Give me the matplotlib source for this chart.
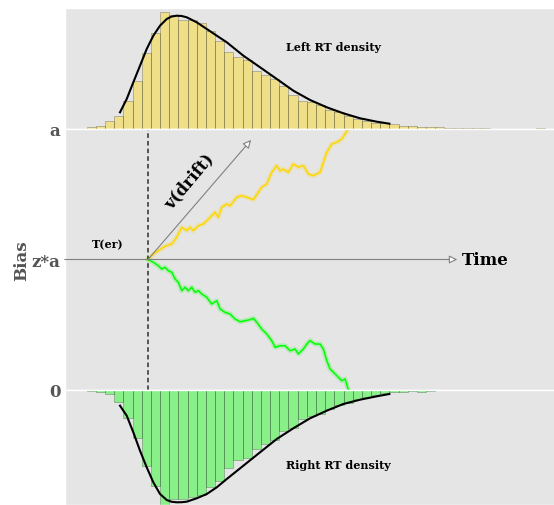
import numpy as np
import matplotlib
matplotlib.use('Agg')
import matplotlib.pyplot as plt

plt.style.use('ggplot')

# model parameters
a = 2.0
z = 0.5
t_er = 0.908

# histogram bins (width 0.1, first left edge 0.24)
bin_start = 0.24
bin_width = 0.1
left_hist = [0.017, 0.033, 0.077, 0.127, 0.283, 0.477, 0.76, 0.957, 1.167, 1.143,
             1.093, 1.087, 1.057, 0.977, 0.877, 0.767, 0.723, 0.693, 0.583, 0.54,
             0.50, 0.427, 0.343, 0.277, 0.267, 0.243, 0.19, 0.167, 0.133, 0.10,
             0.083, 0.057, 0.057, 0.05, 0.033, 0.033, 0.017, 0.017, 0.02, 0.01,
             0.01, 0.007, 0.007, 0.007, 0.0, 0.0, 0.0, 0.0, 0.0, 0.007]
right_hist = [0.01, 0.023, 0.043, 0.123, 0.277, 0.477, 0.757, 0.957, 1.18, 1.09,
              1.09, 1.067, 1.05, 0.967, 0.91, 0.777, 0.70, 0.677, 0.59, 0.543,
              0.50, 0.41, 0.377, 0.29, 0.257, 0.243, 0.19, 0.15, 0.127, 0.09,
              0.067, 0.05, 0.033, 0.023, 0.017, 0.01, 0.023, 0.01, 0.005, 0.005,
              0.005, 0.005]

# analytic densities
dens_t = [0.603, 0.676, 0.748, 0.821, 0.894, 0.966, 1.039, 1.112, 1.166, 1.221,
          1.275, 1.330, 1.439, 1.549, 1.658, 1.767, 1.948, 2.130, 2.312, 2.493,
          2.675, 2.857, 3.038, 3.220, 3.402, 3.540]
left_dens = [0.167, 0.30, 0.467, 0.633, 0.80, 0.933, 1.033, 1.10, 1.125, 1.133,
             1.130, 1.117, 1.067, 1.00, 0.933, 0.867, 0.733, 0.617, 0.50, 0.383,
             0.29, 0.217, 0.157, 0.107, 0.073, 0.053]
right_dens = [0.157, 0.257, 0.423, 0.607, 0.773, 0.923, 1.04, 1.10, 1.118, 1.123,
              1.122, 1.117, 1.083, 1.04, 0.973, 0.89, 0.757, 0.623, 0.49, 0.383,
              0.283, 0.207, 0.14, 0.097, 0.063, 0.04]

# simulated paths
up_t = [0.908, 0.966, 1.021, 1.075, 1.112, 1.167, 1.221, 1.276, 1.330, 1.366,
        1.402, 1.457, 1.511, 1.549, 1.603, 1.639, 1.675, 1.712, 1.767, 1.803,
        1.876, 1.930, 1.985, 2.057, 2.111, 2.148, 2.203, 2.257, 2.312, 2.348,
        2.384, 2.438, 2.493, 2.547, 2.602, 2.657, 2.711, 2.784, 2.820, 2.857,
        2.912, 2.966, 3.021, 3.057, 3.093]
up_y = [1.0, 1.042, 1.067, 1.093, 1.106, 1.119, 1.170, 1.247, 1.221, 1.247,
        1.221, 1.259, 1.272, 1.297, 1.336, 1.362, 1.323, 1.400, 1.425, 1.412,
        1.477, 1.489, 1.477, 1.458, 1.515, 1.553, 1.579, 1.668, 1.719, 1.680,
        1.693, 1.668, 1.732, 1.707, 1.719, 1.655, 1.642, 1.668, 1.745, 1.821,
        1.885, 1.898, 1.923, 1.962, 2.0]
down_t = [0.908, 0.966, 1.021, 1.058, 1.094, 1.130, 1.167, 1.203, 1.239, 1.276,
          1.312, 1.348, 1.385, 1.421, 1.457, 1.494, 1.549, 1.603, 1.658, 1.694,
          1.748, 1.803, 1.857, 1.912, 1.966, 2.021, 2.057, 2.094, 2.148, 2.203,
          2.257, 2.294, 2.348, 2.402, 2.457, 2.511, 2.547, 2.602, 2.639, 2.675,
          2.730, 2.784, 2.820, 2.857, 2.893, 2.948, 2.984, 3.021, 3.057, 3.093]
down_y = [1.0, 0.979, 0.952, 0.927, 0.940, 0.914, 0.902, 0.851, 0.825, 0.761,
          0.787, 0.761, 0.787, 0.749, 0.761, 0.736, 0.710, 0.659, 0.684, 0.621,
          0.595, 0.582, 0.544, 0.523, 0.531, 0.539, 0.549, 0.519, 0.467, 0.429,
          0.378, 0.327, 0.339, 0.339, 0.301, 0.314, 0.276, 0.314, 0.352, 0.378,
          0.352, 0.352, 0.314, 0.225, 0.161, 0.123, 0.097, 0.071, 0.084, 0.0]

drift_tip = (2.032, 1.916)
time_tip = 4.28

serif = dict(family='DejaVu Serif', fontweight='bold')

fig = plt.figure(figsize=(5.54, 5.06), dpi=100)
x0, w = 0.1168, 0.894
ax_top = fig.add_axes([x0, 0.7431, w, 0.2401])
ax_mid = fig.add_axes([x0, 0.2273, w, 0.5158])
ax_bot = fig.add_axes([x0, 0.0, w, 0.2273])

for ax in (ax_top, ax_mid, ax_bot):
    ax.set_xlim(0, 5.4)
    ax.grid(False)
    ax.set_xticks([])
    ax.tick_params(length=0)

edges = bin_start + bin_width * np.arange(len(left_hist))
ax_top.bar(edges, left_hist, width=bin_width, align='edge', color='gold',
           alpha=0.4, edgecolor='black', linewidth=0.4)
ax_top.plot(dens_t, left_dens, color='black', lw=1.5)
ax_top.set_ylim(0, 1.215)
ax_top.set_yticks([])
ax_top.text(2.93, 0.82, 'Left RT density', ha='center', va='center', fontsize=8, **serif)

edges = bin_start + bin_width * np.arange(len(right_hist))
ax_bot.bar(edges, -np.array(right_hist), width=bin_width, align='edge', color='lime',
           alpha=0.4, edgecolor='black', linewidth=0.4)
ax_bot.plot(dens_t, -np.array(right_dens), color='black', lw=1.5)
ax_bot.set_ylim(-1.15, 0)
ax_bot.set_yticks([])
ax_bot.text(2.986, -0.747, 'Right RT density', ha='center', va='center', fontsize=8, **serif)

# trajectories with a soft halo
ax_mid.plot(up_t, up_y, color='gold', lw=3.5, alpha=0.22)
ax_mid.plot(up_t, up_y, color='gold', lw=1.1)
ax_mid.plot(down_t, down_y, color='lime', lw=3.5, alpha=0.22)
ax_mid.plot(down_t, down_y, color='lime', lw=1.1)

ax_mid.vlines(t_er, 0, a, color='black', linestyles=(0, (3, 2)), lw=1.1, alpha=0.8)
ax_mid.annotate('', xy=(time_tip, z * a), xytext=(0, z * a),
                arrowprops=dict(arrowstyle='-|>', fc='white', ec='grey', lw=0.8,
                                mutation_scale=12, shrinkA=0, shrinkB=0))
ax_mid.annotate('', xy=drift_tip, xytext=(t_er, z * a),
                arrowprops=dict(arrowstyle='-|>', fc='white', ec='grey', lw=0.8,
                                mutation_scale=12, shrinkA=0, shrinkB=0))
ax_mid.text(time_tip + 0.05, z * a, 'Time', ha='left', va='center', fontsize=12,
            color='black', **serif)
ax_mid.text(1.356, 1.60, 'v(drift)', ha='center', va='center', rotation=50,
            rotation_mode='anchor', fontsize=12, color='black', **serif)
ax_mid.text(0.473, 1.119, 'T(er)', ha='center', va='center', fontsize=8,
            color='black', **serif)

ax_mid.set_ylim(0, a)
ax_mid.set_yticks([0, z * a, a])
ax_mid.set_yticklabels(['0', 'z*a', 'a'], fontsize=12, color='#555555', **serif)
ax_mid.tick_params(axis='y', pad=3)
ax_mid.set_ylabel('Bias', fontsize=12, color='#555555', labelpad=1, **serif)

fig.savefig('out.png', dpi=100)
